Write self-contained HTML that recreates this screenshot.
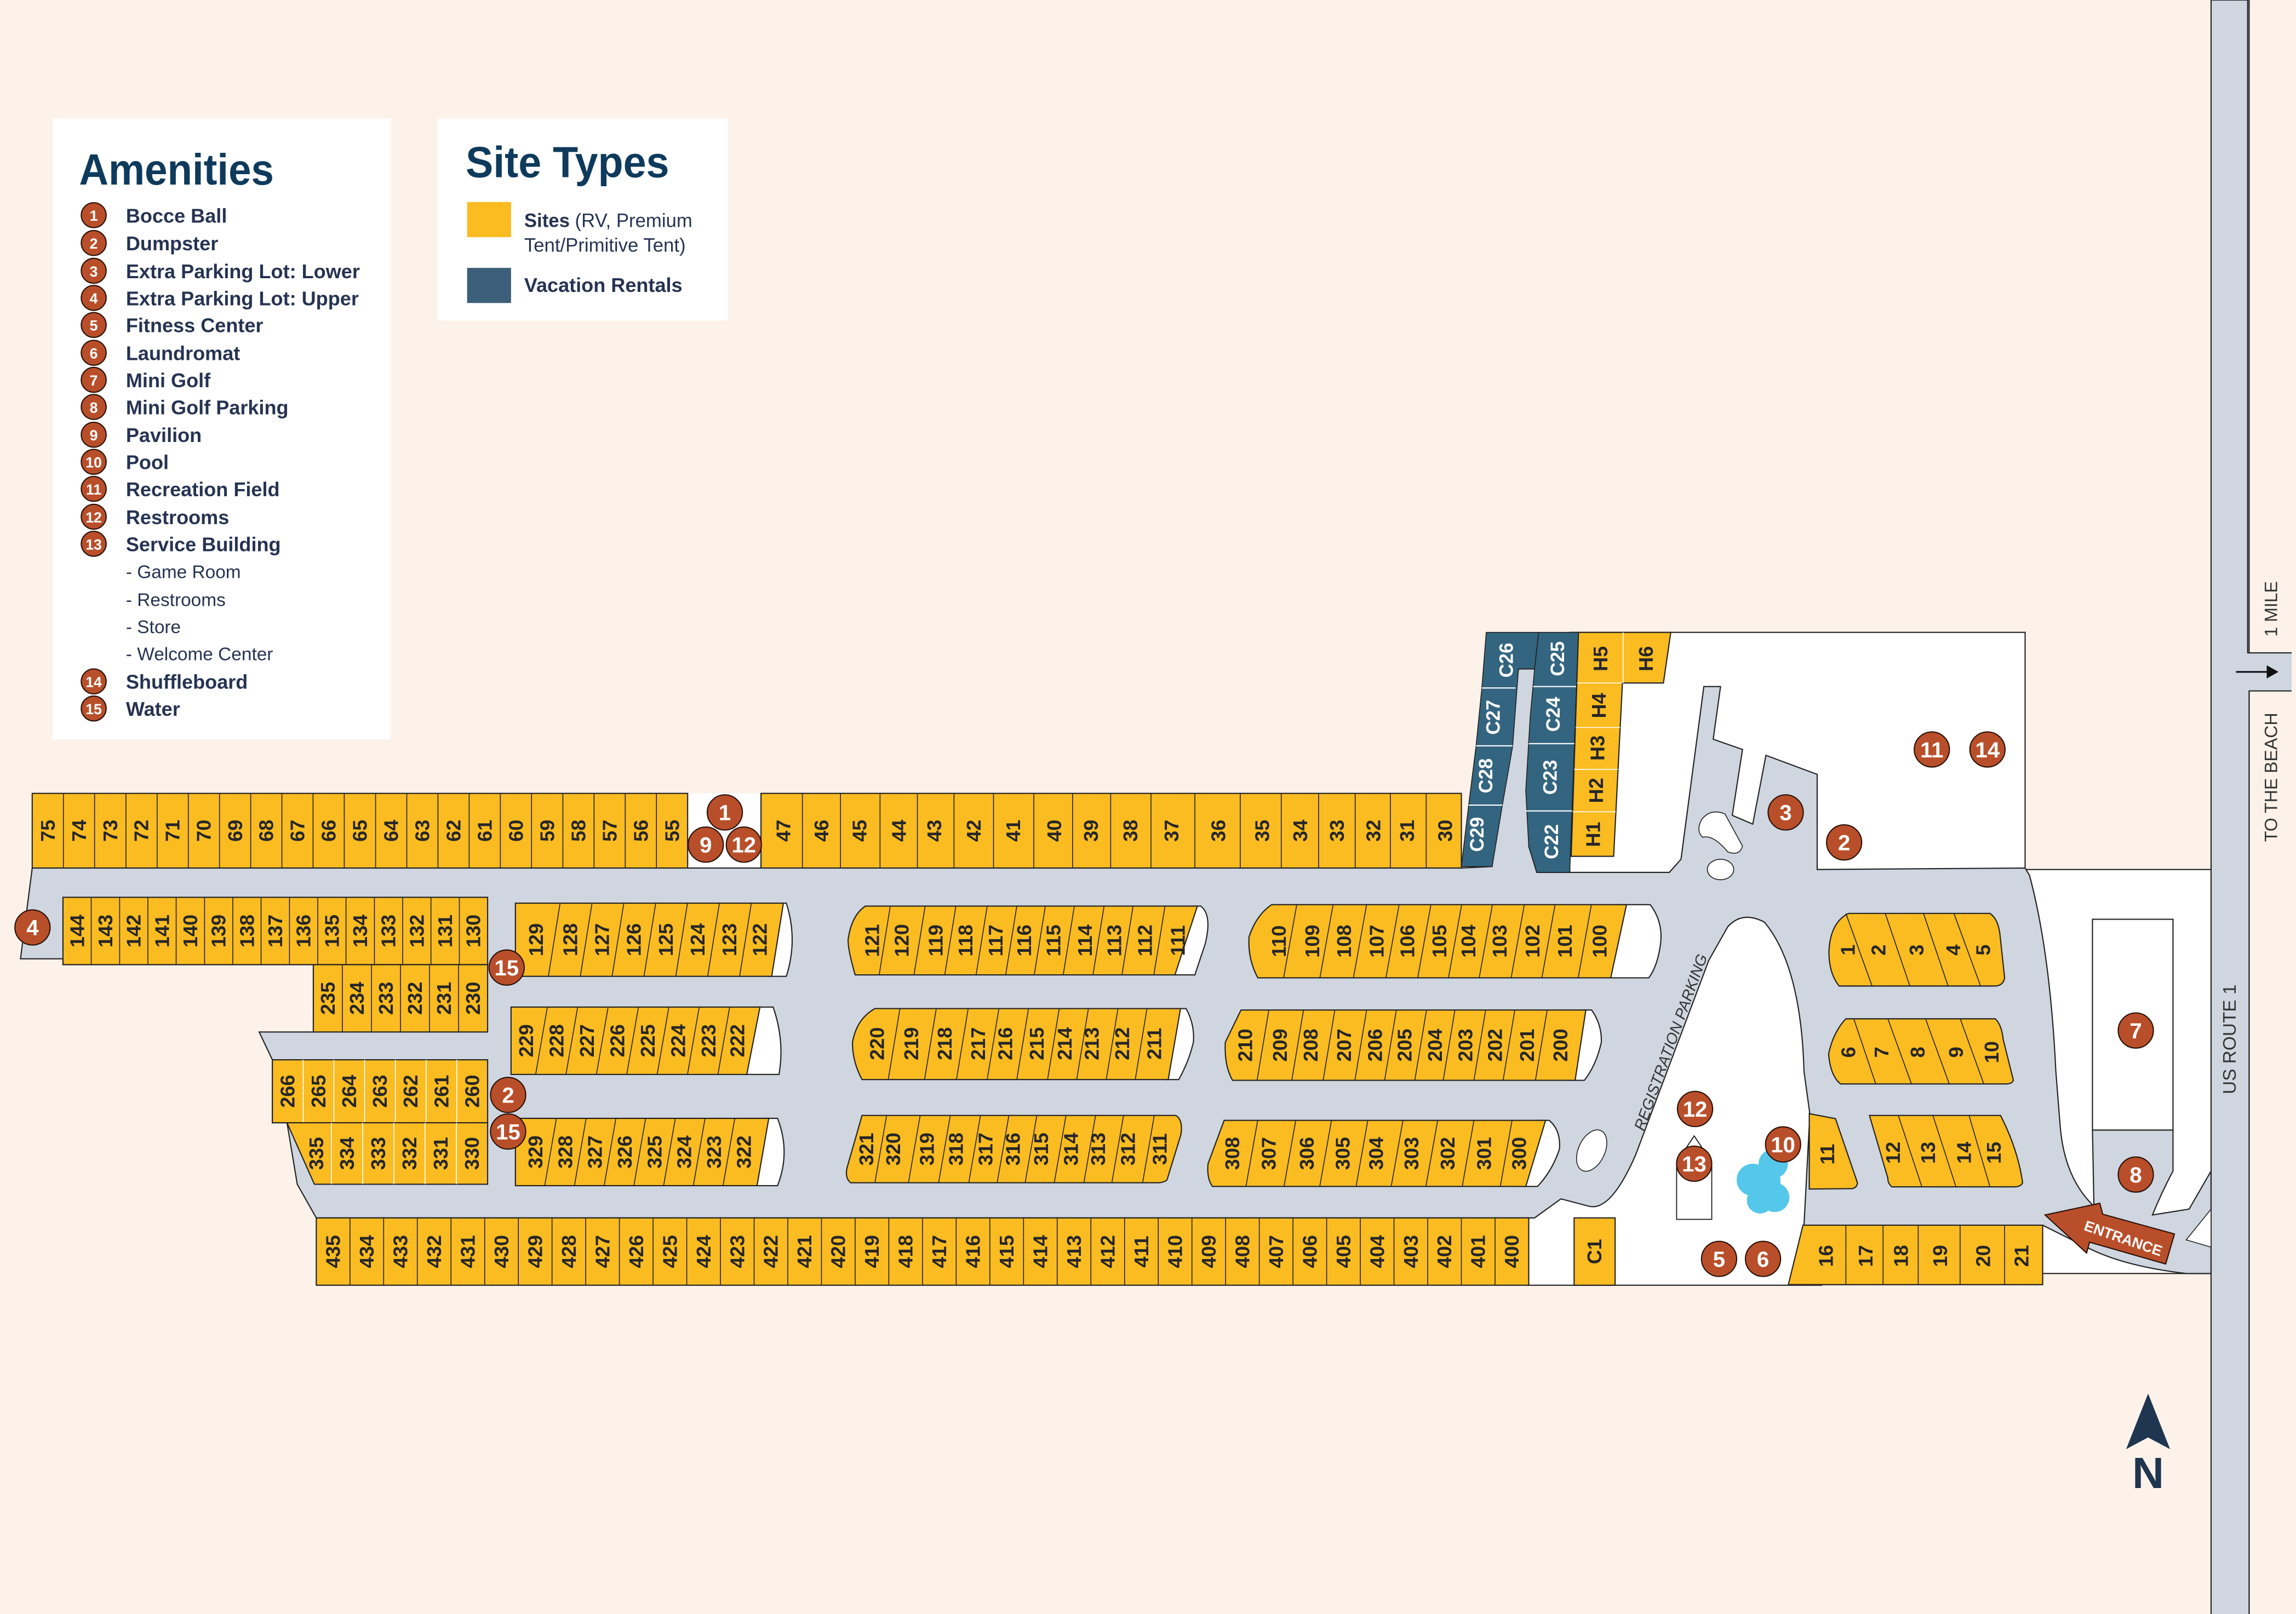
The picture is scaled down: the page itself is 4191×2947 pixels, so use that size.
<!DOCTYPE html>
<html><head><meta charset="utf-8"><style>
html,body{margin:0;padding:0;background:#fdf2e9;}
svg{display:block}
.s{font-family:"Liberation Sans",sans-serif;font-weight:bold;font-size:13.5px;fill:#262626;text-anchor:middle;dominant-baseline:central}
.w{fill:#fff}
.m circle{fill:#b94f2a;stroke:#2a1208;stroke-width:.8}
.m text{font-family:"Liberation Sans",sans-serif;font-weight:bold;font-size:15px;fill:#fff;text-anchor:middle;dominant-baseline:central}
.y{fill:#fbbc22;stroke:#222;stroke-width:.8}
.d{stroke:#222;stroke-width:.6;fill:none}
.b{fill:#336580;stroke:#222;stroke-width:.6}
.bd{stroke:#fff;stroke-width:.8;fill:none}
.bt{font-family:"Liberation Sans",sans-serif;font-weight:bold;font-size:13px;fill:#fff;text-anchor:middle;dominant-baseline:central}
.li{font-family:"Liberation Sans",sans-serif;font-weight:bold;font-size:13.5px;fill:#263352}
.ls{font-family:"Liberation Sans",sans-serif;font-size:12.5px;fill:#263352}
.lm circle{fill:#b94f2a;stroke:#2a1208;stroke-width:.8}
.lm text{font-family:"Liberation Sans",sans-serif;font-weight:bold;font-size:10px;fill:#fff;text-anchor:middle;dominant-baseline:central}
</style></head><body>
<svg width="4191" height="2947" viewBox="0 0 1568 1102.6" preserveAspectRatio="none" xmlns="http://www.w3.org/2000/svg">
<rect x="0" y="0" width="1568" height="1102.6" fill="#fdf2e9"/>

<rect x="1072" y="432" width="311" height="164" class="w" stroke="#222" stroke-width=".8"/>
<rect x="1383" y="594" width="128" height="276" class="w" stroke="#222" stroke-width=".8"/>
<rect x="1044" y="620" width="200" height="258" class="w" stroke="#222" stroke-width=".8"/>
<rect x="469" y="542" width="51" height="51" class="w"/>

<path d="M22,593 L998,593 L1019,592 L1037,457 L1048,457 L1044,578 L1049.5,596 L1140,596 L1148,587 L1163.6,469 L1175,469 L1170,505 L1190,512 L1183,557 L1197,563 L1206,516 L1241,529 L1241,594 L1383,593 L1386,598 Q1400,650 1404,732 L1407,770 Q1410,805 1430,824 L1429,772 L1484,772 L1484,800 Q1476,815 1470,830 L1495,826 L1510,800 L1510,870 L1493,870 Q1450,865 1425,852 L1395,837 L1232,837 L1236,761 L1232,732 Q1230,660 1205,630 Q1190,622 1180,633 L1167,656 L1117,789 Q1100,828 1085,824 L1066,819 L1048,832 L216,832 L203,809 L196,767 L186,767 L186,724 L177,705 L214,705 L214,659 L43,659 L43,655 L14,655 Z" fill="#cfd6e0" stroke="#222" stroke-width=".8"/>
<ellipse cx="1175" cy="594" rx="9" ry="7" class="w" stroke="#222" stroke-width=".6"/>
<path d="M1162,560 Q1168,552 1178,556 L1190,578 Q1188,585 1180,582 Q1170,570 1163,572 Q1158,568 1162,560 Z" class="w" stroke="#222" stroke-width=".6"/>
<ellipse cx="1087" cy="786" rx="9" ry="15" transform="rotate(25 1087 786)" class="w" stroke="#222" stroke-width=".6"/>

<rect x="1510" y="0" width="26" height="1103" fill="#cfd6e0" stroke="#222" stroke-width=".8"/>
<rect x="1535" y="446" width="30" height="26" fill="#cfd6e0"/>
<path d="M1535,0 V446 H1565 M1565,472 H1536 V1103" stroke="#222" stroke-width=".8" fill="none"/>
<path d="M1527,459 H1549" stroke="#111" stroke-width="1.2"/>
<path d="M1548,454.5 L1556,459 L1548,463.5 Z" fill="#111"/>
<text transform="translate(1551 416) rotate(-90)" font-family="Liberation Sans,sans-serif" font-size="12" fill="#333" text-anchor="middle" dominant-baseline="central">1 MILE</text>
<text transform="translate(1551 531) rotate(-90)" font-family="Liberation Sans,sans-serif" font-size="12" fill="#333" text-anchor="middle" dominant-baseline="central">TO THE BEACH</text>
<text transform="translate(1523 710) rotate(-90)" font-family="Liberation Sans,sans-serif" font-size="12.5" fill="#333" text-anchor="middle" dominant-baseline="central">US ROUTE 1</text>
<path d="M1493,847 L1510,826 L1510,852 Z" class="w" stroke="#222" stroke-width=".6"/>

<rect x="1429" y="628" width="55" height="144" class="w" stroke="#222" stroke-width=".8"/>

<rect x="22" y="542" width="447.6" height="51" class="y"/>
<path class="d" d="M43.3,542V593M64.6,542V593M86,542V593M107.3,542V593M128.6,542V593M149.9,542V593M171.2,542V593M192.5,542V593M213.8,542V593M235.1,542V593M256.5,542V593M277.8,542V593M299.1,542V593M320.4,542V593M341.7,542V593M363,542V593M384.4,542V593M405.7,542V593M427,542V593M448.3,542V593"/>
<g>
<text class="s" transform="translate(32.7 567.5) rotate(-90)">75</text>
<text class="s" transform="translate(54 567.5) rotate(-90)">74</text>
<text class="s" transform="translate(75.3 567.5) rotate(-90)">73</text>
<text class="s" transform="translate(96.6 567.5) rotate(-90)">72</text>
<text class="s" transform="translate(117.9 567.5) rotate(-90)">71</text>
<text class="s" transform="translate(139.2 567.5) rotate(-90)">70</text>
<text class="s" transform="translate(160.6 567.5) rotate(-90)">69</text>
<text class="s" transform="translate(181.9 567.5) rotate(-90)">68</text>
<text class="s" transform="translate(203.2 567.5) rotate(-90)">67</text>
<text class="s" transform="translate(224.5 567.5) rotate(-90)">66</text>
<text class="s" transform="translate(245.8 567.5) rotate(-90)">65</text>
<text class="s" transform="translate(267.1 567.5) rotate(-90)">64</text>
<text class="s" transform="translate(288.5 567.5) rotate(-90)">63</text>
<text class="s" transform="translate(309.8 567.5) rotate(-90)">62</text>
<text class="s" transform="translate(331.1 567.5) rotate(-90)">61</text>
<text class="s" transform="translate(352.4 567.5) rotate(-90)">60</text>
<text class="s" transform="translate(373.7 567.5) rotate(-90)">59</text>
<text class="s" transform="translate(395 567.5) rotate(-90)">58</text>
<text class="s" transform="translate(416.4 567.5) rotate(-90)">57</text>
<text class="s" transform="translate(437.7 567.5) rotate(-90)">56</text>
<text class="s" transform="translate(459 567.5) rotate(-90)">55</text>
</g>

<rect x="519.7" y="542" width="478.3" height="51" class="y"/>
<path class="d" d="M548,542V593M574,542V593M601,542V593M626.5,542V593M651.5,542V593M678.5,542V593M706,542V593M732.5,542V593M758.5,542V593M786,542V593M816,542V593M847,542V593M875,542V593M900.5,542V593M925.5,542V593M949.5,542V593M974,542V593"/>
<g>
<text class="s" transform="translate(535 567.5) rotate(-90)">47</text>
<text class="s" transform="translate(561 567.5) rotate(-90)">46</text>
<text class="s" transform="translate(587 567.5) rotate(-90)">45</text>
<text class="s" transform="translate(614 567.5) rotate(-90)">44</text>
<text class="s" transform="translate(638 567.5) rotate(-90)">43</text>
<text class="s" transform="translate(665 567.5) rotate(-90)">42</text>
<text class="s" transform="translate(692 567.5) rotate(-90)">41</text>
<text class="s" transform="translate(720 567.5) rotate(-90)">40</text>
<text class="s" transform="translate(745 567.5) rotate(-90)">39</text>
<text class="s" transform="translate(772 567.5) rotate(-90)">38</text>
<text class="s" transform="translate(800 567.5) rotate(-90)">37</text>
<text class="s" transform="translate(832 567.5) rotate(-90)">36</text>
<text class="s" transform="translate(862 567.5) rotate(-90)">35</text>
<text class="s" transform="translate(888 567.5) rotate(-90)">34</text>
<text class="s" transform="translate(913 567.5) rotate(-90)">33</text>
<text class="s" transform="translate(938 567.5) rotate(-90)">32</text>
<text class="s" transform="translate(961 567.5) rotate(-90)">31</text>
<text class="s" transform="translate(987 567.5) rotate(-90)">30</text>
</g>

<path class="b" d="M1015,432 L1050.8,432 L1048,457 L1037,457 L1033,510 L1026,550 L1019,592 L998,592 L1003,550 L1008,510 L1012,470 Z"/>
<path class="bd" d="M1012,470 L1035,470 M1008,509.5 L1033,509.5 M1003,550 L1026,550"/>
<text class="bt" transform="translate(1029 451) rotate(-90)">C26</text>
<text class="bt" transform="translate(1020 490) rotate(-90)">C27</text>
<text class="bt" transform="translate(1015 530) rotate(-90)">C28</text>
<text class="bt" transform="translate(1009 570) rotate(-90)">C29</text>
<path class="b" d="M1050.8,432 L1078,432 L1072,596 L1049.5,596 L1044,578 L1042,540 L1045,490 L1048,457 Z"/>
<path class="bd" d="M1047,469 L1077,469 M1044,508 L1076,508 M1042,554 L1074,554"/>
<text class="bt" transform="translate(1064 450) rotate(-90)">C25</text>
<text class="bt" transform="translate(1061 488) rotate(-90)">C24</text>
<text class="bt" transform="translate(1059 531) rotate(-90)">C23</text>
<text class="bt" transform="translate(1060 575) rotate(-90)">C22</text>
<path class="y" d="M1078,432 L1141,432 L1136,466.6 L1108,466.6 L1102,585 L1073,585 Z"/>
<path class="d" d="M1108.5,432 V466.6 M1077,466.6 H1108 M1076,497 H1106.5 M1075,525.6 H1105 M1074,554.6 H1103.5" style="stroke:#fff"/>
<text class="s" transform="translate(1093 450) rotate(-90)">H5</text>
<text class="s" transform="translate(1124 450) rotate(-90)">H6</text>
<text class="s" transform="translate(1092 482) rotate(-90)">H4</text>
<text class="s" transform="translate(1091 511) rotate(-90)">H3</text>
<text class="s" transform="translate(1090 540) rotate(-90)">H2</text>
<text class="s" transform="translate(1088 570) rotate(-90)">H1</text>

<rect x="43" y="613" width="290" height="46" class="y"/>
<path class="d" d="M62.3,613V659M81.7,613V659M101,613V659M120.3,613V659M139.7,613V659M159,613V659M178.3,613V659M197.7,613V659M217,613V659M236.3,613V659M255.7,613V659M275,613V659M294.3,613V659M313.7,613V659"/>
<g>
<text class="s" transform="translate(52.7 636) rotate(-90)">144</text>
<text class="s" transform="translate(72 636) rotate(-90)">143</text>
<text class="s" transform="translate(91.3 636) rotate(-90)">142</text>
<text class="s" transform="translate(110.7 636) rotate(-90)">141</text>
<text class="s" transform="translate(130 636) rotate(-90)">140</text>
<text class="s" transform="translate(149.3 636) rotate(-90)">139</text>
<text class="s" transform="translate(168.7 636) rotate(-90)">138</text>
<text class="s" transform="translate(188 636) rotate(-90)">137</text>
<text class="s" transform="translate(207.3 636) rotate(-90)">136</text>
<text class="s" transform="translate(226.7 636) rotate(-90)">135</text>
<text class="s" transform="translate(246 636) rotate(-90)">134</text>
<text class="s" transform="translate(265.3 636) rotate(-90)">133</text>
<text class="s" transform="translate(284.7 636) rotate(-90)">132</text>
<text class="s" transform="translate(304 636) rotate(-90)">131</text>
<text class="s" transform="translate(323.3 636) rotate(-90)">130</text>
</g>

<rect x="214" y="659" width="119" height="46" class="y"/>
<path class="d" d="M233.8,659V705M253.7,659V705M273.5,659V705M293.3,659V705M313.2,659V705"/>
<text class="s" transform="translate(223.9 682) rotate(-90)">235</text>
<text class="s" transform="translate(243.8 682) rotate(-90)">234</text>
<text class="s" transform="translate(263.6 682) rotate(-90)">233</text>
<text class="s" transform="translate(283.4 682) rotate(-90)">232</text>
<text class="s" transform="translate(303.3 682) rotate(-90)">231</text>
<text class="s" transform="translate(323.1 682) rotate(-90)">230</text>

<rect x="186" y="724" width="147" height="43" class="y"/>
<path class="d" d="M207,724V767M228,724V767M249,724V767M270,724V767M291,724V767M312,724V767" style="stroke:#fff"/>
<text class="s" transform="translate(196.5 745.5) rotate(-90)">266</text>
<text class="s" transform="translate(217.5 745.5) rotate(-90)">265</text>
<text class="s" transform="translate(238.5 745.5) rotate(-90)">264</text>
<text class="s" transform="translate(259.5 745.5) rotate(-90)">263</text>
<text class="s" transform="translate(280.5 745.5) rotate(-90)">262</text>
<text class="s" transform="translate(301.5 745.5) rotate(-90)">261</text>
<text class="s" transform="translate(322.5 745.5) rotate(-90)">260</text>

<path class="y" d="M196,767 L333,767 L333,809 L214.7,809 Z"/>
<path class="d" d="M226.3,767V809M247.7,767V809M269,767V809M290.3,767V809M311.7,767V809" style="stroke:#fff"/>
<text class="s" transform="translate(216 788) rotate(-90)">335</text>
<text class="s" transform="translate(237 788) rotate(-90)">334</text>
<text class="s" transform="translate(258.3 788) rotate(-90)">333</text>
<text class="s" transform="translate(279.7 788) rotate(-90)">332</text>
<text class="s" transform="translate(301 788) rotate(-90)">331</text>
<text class="s" transform="translate(322.3 788) rotate(-90)">330</text>

<path class="w" stroke="#222" stroke-width=".8" d="M530,617 L537,617 Q545,642 537,667 L525,667 Z"/>
<path class="y" d="M352,617 L535,617 L527,667 L352,667 Z"/>
<path class="d" d="M382.5,617L374.5,667M404.3,617L396.3,667M426,617L418,667M447.8,617L439.8,667M469.5,617L461.5,667M491.3,617L483.3,667M513.1,617L505.1,667"/>
<text class="s" transform="translate(366 642) rotate(-90)">129</text>
<text class="s" transform="translate(389.4 642) rotate(-90)">128</text>
<text class="s" transform="translate(411.1 642) rotate(-90)">127</text>
<text class="s" transform="translate(432.9 642) rotate(-90)">126</text>
<text class="s" transform="translate(454.7 642) rotate(-90)">125</text>
<text class="s" transform="translate(476.4 642) rotate(-90)">124</text>
<text class="s" transform="translate(498.2 642) rotate(-90)">123</text>
<text class="s" transform="translate(519 642) rotate(-90)">122</text>

<path class="w" stroke="#222" stroke-width=".8" d="M515,688 L528,688 Q536,711 532,734 L508,734 Z"/>
<path class="y" d="M349,688 L519,688 L510,734 L349,734 Z"/>
<path class="d" d="M373.8,688L365.8,734M394.5,688L386.5,734M415.3,688L407.3,734M436,688L428,734M456.8,688L448.8,734M477.5,688L469.5,734M498.3,688L490.3,734"/>
<text class="s" transform="translate(359.4 711) rotate(-90)">229</text>
<text class="s" transform="translate(380.1 711) rotate(-90)">228</text>
<text class="s" transform="translate(400.9 711) rotate(-90)">227</text>
<text class="s" transform="translate(421.6 711) rotate(-90)">226</text>
<text class="s" transform="translate(442.4 711) rotate(-90)">225</text>
<text class="s" transform="translate(463.1 711) rotate(-90)">224</text>
<text class="s" transform="translate(483.9 711) rotate(-90)">223</text>
<text class="s" transform="translate(503.6 711) rotate(-90)">222</text>

<path class="w" stroke="#222" stroke-width=".8" d="M520,764 L531,764 Q540,787 531,810 L514,810 Z"/>
<path class="y" d="M352,764 L525,764 L517,810 L352,810 Z"/>
<path class="d" d="M380,764L372,810M400.3,764L392.3,810M420.6,764L412.6,810M440.9,764L432.9,810M461.2,764L453.2,810M481.5,764L473.5,810M501.8,764L493.8,810"/>
<text class="s" transform="translate(365.8 787) rotate(-90)">329</text>
<text class="s" transform="translate(386.1 787) rotate(-90)">328</text>
<text class="s" transform="translate(406.4 787) rotate(-90)">327</text>
<text class="s" transform="translate(426.7 787) rotate(-90)">326</text>
<text class="s" transform="translate(447 787) rotate(-90)">325</text>
<text class="s" transform="translate(467.3 787) rotate(-90)">324</text>
<text class="s" transform="translate(487.6 787) rotate(-90)">323</text>
<text class="s" transform="translate(508 787) rotate(-90)">322</text>

<path class="w" stroke="#222" stroke-width=".8" d="M815,619 L820,619 Q828,625 823,645 L816,666 L802,666 Z"/>
<path class="y" d="M591,619 L817.7,619 L802.4,666 L584,666 Q578,645 579.5,640 Q582,625 591,619 Z"/>
<path class="d" d="M608,619L600.4,666M631.8,619L624.2,666M652.8,619L645.2,666M674.2,619L666.6,666M694.4,619L686.8,666M713.9,619L706.3,666M733.7,619L726.1,666M754,619L746.4,666M773.8,619L766.2,666M795.6,619L788,666"/>
<text class="s" transform="translate(595.6 642.5) rotate(-90)">121</text>
<text class="s" transform="translate(615.8 642.5) rotate(-90)">120</text>
<text class="s" transform="translate(639 642.5) rotate(-90)">119</text>
<text class="s" transform="translate(659.5 642.5) rotate(-90)">118</text>
<text class="s" transform="translate(680 642.5) rotate(-90)">117</text>
<text class="s" transform="translate(699.5 642.5) rotate(-90)">116</text>
<text class="s" transform="translate(719.5 642.5) rotate(-90)">115</text>
<text class="s" transform="translate(741 642.5) rotate(-90)">114</text>
<text class="s" transform="translate(761 642.5) rotate(-90)">113</text>
<text class="s" transform="translate(782 642.5) rotate(-90)">112</text>
<text class="s" transform="translate(804.3 642.5) rotate(-90)">111</text>

<path class="w" stroke="#222" stroke-width=".8" d="M1105,618 L1127,618 Q1136,630 1134,645 Q1132,660 1126,668 L1098,668 Z"/>
<path class="y" d="M868.5,618 L1110.8,618 L1100,668 L859,668 Q852,655 853,640 Q858,625 868.5,618 Z"/>
<path class="d" d="M885.6,618L876.6,668M910.4,618L901.4,668M933.3,618L924.3,668M955.5,618L946.5,668M977.2,618L968.2,668M998.2,618L989.2,668M1019.2,618L1010.2,668M1041,618L1032,668M1062,618L1053,668M1086.8,618L1077.8,668"/>
<text class="s" transform="translate(873.4 643) rotate(-90)">110</text>
<text class="s" transform="translate(896.3 643) rotate(-90)">109</text>
<text class="s" transform="translate(918 643) rotate(-90)">108</text>
<text class="s" transform="translate(940.2 643) rotate(-90)">107</text>
<text class="s" transform="translate(961.2 643) rotate(-90)">106</text>
<text class="s" transform="translate(983 643) rotate(-90)">105</text>
<text class="s" transform="translate(1002.8 643) rotate(-90)">104</text>
<text class="s" transform="translate(1024.2 643) rotate(-90)">103</text>
<text class="s" transform="translate(1046.7 643) rotate(-90)">102</text>
<text class="s" transform="translate(1068.8 643) rotate(-90)">101</text>
<text class="s" transform="translate(1092.5 643) rotate(-90)">100</text>

<path class="w" stroke="#222" stroke-width=".8" d="M804,689 L810,689 Q816,700 815,712 Q812,725 805,737.5 L796,737.5 Z"/>
<path class="y" d="M597.5,689 L806.2,689 L797.8,737.5 L588.7,737.5 Q582,725 582.2,712 Q585,696 597.5,689 Z"/>
<path class="d" d="M614.6,689L606.6,737.5M639.4,689L631.4,737.5M661.2,689L653.2,737.5M682.2,689L674.2,737.5M702.4,689L694.4,737.5M723.4,689L715.4,737.5M743.3,689L735.3,737.5M763.5,689L755.5,737.5M783.3,689L775.3,737.5"/>
<text class="s" transform="translate(599 713) rotate(-90)">220</text>
<text class="s" transform="translate(622.3 713) rotate(-90)">219</text>
<text class="s" transform="translate(645.2 713) rotate(-90)">218</text>
<text class="s" transform="translate(668.1 713) rotate(-90)">217</text>
<text class="s" transform="translate(686.5 713) rotate(-90)">216</text>
<text class="s" transform="translate(708.1 713) rotate(-90)">215</text>
<text class="s" transform="translate(727.2 713) rotate(-90)">214</text>
<text class="s" transform="translate(745.7 713) rotate(-90)">213</text>
<text class="s" transform="translate(766.5 713) rotate(-90)">212</text>
<text class="s" transform="translate(788.3 713) rotate(-90)">211</text>

<path class="w" stroke="#222" stroke-width=".8" d="M1080,690 L1087,690 Q1094,700 1093.6,712 Q1090,728 1082,738 L1073,738 Z"/>
<path class="y" d="M847.5,690 L1083,690 L1075.7,738 L841.7,738 Q836,728 836.8,712 Z"/>
<path class="d" d="M866.5,690L858.5,738M890.2,690L882.2,738M911.6,690L903.6,738M933.3,690L925.3,738M953.6,690L945.6,738M974.2,690L966.2,738M993.6,690L985.6,738M1014.6,690L1006.6,738M1034.5,690L1026.5,738M1056.6,690L1048.6,738"/>
<text class="s" transform="translate(850.5 714) rotate(-90)">210</text>
<text class="s" transform="translate(874.2 714) rotate(-90)">209</text>
<text class="s" transform="translate(895.2 714) rotate(-90)">208</text>
<text class="s" transform="translate(918 714) rotate(-90)">207</text>
<text class="s" transform="translate(939 714) rotate(-90)">206</text>
<text class="s" transform="translate(959.3 714) rotate(-90)">205</text>
<text class="s" transform="translate(980 714) rotate(-90)">204</text>
<text class="s" transform="translate(1000.9 714) rotate(-90)">203</text>
<text class="s" transform="translate(1021.1 714) rotate(-90)">202</text>
<text class="s" transform="translate(1042.9 714) rotate(-90)">201</text>
<text class="s" transform="translate(1065.8 714) rotate(-90)">200</text>

<path class="y" d="M588.7,762 L803,762 Q808,765 806.5,775 L797,806 Q795,808 790,808 L581,808 Q577,805 578.4,798 Z"/>
<path class="d" d="M605.5,762L597.5,808M628.4,762L620.4,808M649,762L641,808M669.6,762L661.6,808M689,762L681,808M708.1,762L700.1,808M728,762L720,808M748.2,762L740.2,808M767.3,762L759.3,808M788.3,762L780.3,808"/>
<text class="s" transform="translate(591.7 785) rotate(-90)">321</text>
<text class="s" transform="translate(610 785) rotate(-90)">320</text>
<text class="s" transform="translate(633 785) rotate(-90)">319</text>
<text class="s" transform="translate(652.8 785) rotate(-90)">318</text>
<text class="s" transform="translate(673 785) rotate(-90)">317</text>
<text class="s" transform="translate(691.7 785) rotate(-90)">316</text>
<text class="s" transform="translate(711 785) rotate(-90)">315</text>
<text class="s" transform="translate(731.4 785) rotate(-90)">314</text>
<text class="s" transform="translate(750 785) rotate(-90)">313</text>
<text class="s" transform="translate(770.4 785) rotate(-90)">312</text>
<text class="s" transform="translate(792.1 785) rotate(-90)">311</text>

<path class="w" stroke="#222" stroke-width=".8" d="M1050,765.4 L1058,765.4 Q1066,772 1065,785 Q1060,800 1050,810.5 L1040,810.5 Z"/>
<path class="y" d="M836,765.4 L1055.5,765.4 L1042,810.5 L828,810.5 Q824,805 825,795 Z"/>
<path class="d" d="M858.9,765.4L850.9,810.5M884.9,765.4L876.9,810.5M909.3,765.4L901.3,810.5M934.1,765.4L926.1,810.5M958.1,765.4L950.1,810.5M981.8,765.4L973.8,810.5M1006.6,765.4L998.6,810.5M1032.6,765.4L1024.6,810.5"/>
<text class="s" transform="translate(841.7 788) rotate(-90)">308</text>
<text class="s" transform="translate(866.5 788) rotate(-90)">307</text>
<text class="s" transform="translate(892.5 788) rotate(-90)">306</text>
<text class="s" transform="translate(917 788) rotate(-90)">305</text>
<text class="s" transform="translate(939.8 788) rotate(-90)">304</text>
<text class="s" transform="translate(963.9 788) rotate(-90)">303</text>
<text class="s" transform="translate(988.7 788) rotate(-90)">302</text>
<text class="s" transform="translate(1013.5 788) rotate(-90)">301</text>
<text class="s" transform="translate(1037.5 788) rotate(-90)">300</text>

<rect x="216" y="832" width="828" height="46" class="y"/>
<path class="d" d="M239,832V878M262,832V878M285,832V878M308,832V878M331,832V878M354,832V878M377,832V878M400,832V878M423,832V878M446,832V878M469,832V878M492,832V878M515,832V878M538,832V878M561,832V878M584,832V878M607,832V878M630,832V878M653,832V878M676,832V878M699,832V878M722,832V878M745,832V878M768,832V878M791,832V878M814,832V878M837,832V878M860,832V878M883,832V878M906,832V878M929,832V878M952,832V878M975,832V878M998,832V878M1021,832V878"/>
<g>
<text class="s" transform="translate(227.5 855) rotate(-90)">435</text>
<text class="s" transform="translate(250.5 855) rotate(-90)">434</text>
<text class="s" transform="translate(273.5 855) rotate(-90)">433</text>
<text class="s" transform="translate(296.5 855) rotate(-90)">432</text>
<text class="s" transform="translate(319.5 855) rotate(-90)">431</text>
<text class="s" transform="translate(342.5 855) rotate(-90)">430</text>
<text class="s" transform="translate(365.5 855) rotate(-90)">429</text>
<text class="s" transform="translate(388.5 855) rotate(-90)">428</text>
<text class="s" transform="translate(411.5 855) rotate(-90)">427</text>
<text class="s" transform="translate(434.5 855) rotate(-90)">426</text>
<text class="s" transform="translate(457.5 855) rotate(-90)">425</text>
<text class="s" transform="translate(480.5 855) rotate(-90)">424</text>
<text class="s" transform="translate(503.5 855) rotate(-90)">423</text>
<text class="s" transform="translate(526.5 855) rotate(-90)">422</text>
<text class="s" transform="translate(549.5 855) rotate(-90)">421</text>
<text class="s" transform="translate(572.5 855) rotate(-90)">420</text>
<text class="s" transform="translate(595.5 855) rotate(-90)">419</text>
<text class="s" transform="translate(618.5 855) rotate(-90)">418</text>
<text class="s" transform="translate(641.5 855) rotate(-90)">417</text>
<text class="s" transform="translate(664.5 855) rotate(-90)">416</text>
<text class="s" transform="translate(687.5 855) rotate(-90)">415</text>
<text class="s" transform="translate(710.5 855) rotate(-90)">414</text>
<text class="s" transform="translate(733.5 855) rotate(-90)">413</text>
<text class="s" transform="translate(756.5 855) rotate(-90)">412</text>
<text class="s" transform="translate(779.5 855) rotate(-90)">411</text>
<text class="s" transform="translate(802.5 855) rotate(-90)">410</text>
<text class="s" transform="translate(825.5 855) rotate(-90)">409</text>
<text class="s" transform="translate(848.5 855) rotate(-90)">408</text>
<text class="s" transform="translate(871.5 855) rotate(-90)">407</text>
<text class="s" transform="translate(894.5 855) rotate(-90)">406</text>
<text class="s" transform="translate(917.5 855) rotate(-90)">405</text>
<text class="s" transform="translate(940.5 855) rotate(-90)">404</text>
<text class="s" transform="translate(963.5 855) rotate(-90)">403</text>
<text class="s" transform="translate(986.5 855) rotate(-90)">402</text>
<text class="s" transform="translate(1009.5 855) rotate(-90)">401</text>
<text class="s" transform="translate(1032.5 855) rotate(-90)">400</text>
</g>
<rect x="1075" y="832" width="28" height="46" class="y"/>
<text class="s" transform="translate(1089 855) rotate(-90)">C1</text>

<path class="y" d="M1262.4,624 L1359,624 Q1365,628 1366,640 L1369,668 Q1368,673.6 1362,673.6 L1256,673.6 Q1249,665 1249,650 Q1250,630 1262.4,624 Z"/>
<path class="d" d="M1260.6,624L1278.5,673.6M1287.5,624L1304.3,673.6M1313.6,624L1330.4,673.6M1334.4,624L1352.6,673.6"/>
<text class="s" transform="translate(1262 649) rotate(-90)">1</text>
<text class="s" transform="translate(1283 649) rotate(-90)">2</text>
<text class="s" transform="translate(1309 649) rotate(-90)">3</text>
<text class="s" transform="translate(1334 649) rotate(-90)">4</text>
<text class="s" transform="translate(1354.4 649) rotate(-90)">5</text>

<path class="y" d="M1260.6,696 L1362.6,696 Q1367,700 1368,710 L1375,738 Q1374,740.5 1370,740.5 L1257,740.5 Q1250,735 1248.8,720 Q1252,705 1260.6,696 Z"/>
<path class="d" d="M1266,696L1281,740.5M1289.3,696L1305.4,740.5M1315,696L1331.2,740.5M1338.7,696L1354.8,740.5"/>
<text class="s" transform="translate(1262.4 718.8) rotate(-90)">6</text>
<text class="s" transform="translate(1285 718.8) rotate(-90)">7</text>
<text class="s" transform="translate(1309.7 718.8) rotate(-90)">8</text>
<text class="s" transform="translate(1335.8 718.8) rotate(-90)">9</text>
<text class="s" transform="translate(1360.1 718.8) rotate(-90)">10</text>

<path class="y" d="M1235.6,760.8 L1253.5,764.2 L1268.5,808 Q1268,812 1264,812 L1235.6,812.3 Z"/>
<text class="s" transform="translate(1248 788.5) rotate(-90)">11</text>

<path class="y" d="M1276.7,762 L1366.2,762 Q1378,785 1381.3,808 Q1380,810.8 1376,810.8 L1292,810.8 Q1289,808 1289.3,805 Z"/>
<path class="d" d="M1296.4,762L1312.5,810.8M1320,762L1335.8,810.8M1344.7,762L1359,810.8"/>
<text class="s" transform="translate(1292.8 787.5) rotate(-90)">12</text>
<text class="s" transform="translate(1316.8 787.5) rotate(-90)">13</text>
<text class="s" transform="translate(1341.2 787.5) rotate(-90)">14</text>
<text class="s" transform="translate(1361.6 787.5) rotate(-90)">15</text>

<path class="y" d="M1231.3,837 L1395,837 L1395,877.6 L1221.3,877.6 Z"/>
<path class="d" d="M1260.6,837V877.6M1286,837V877.6M1310,837V877.6M1338.6,837V877.6M1369,837V877.6"/>
<text class="s" transform="translate(1247 858) rotate(-90)">16</text>
<text class="s" transform="translate(1274.2 858) rotate(-90)">17</text>
<text class="s" transform="translate(1298.2 858) rotate(-90)">18</text>
<text class="s" transform="translate(1325 858) rotate(-90)">19</text>
<text class="s" transform="translate(1354.4 858) rotate(-90)">20</text>
<text class="s" transform="translate(1380.5 858) rotate(-90)">21</text>

<g fill="#55c7ea">
<circle cx="1197" cy="806" r="11"/><circle cx="1211" cy="795" r="10"/><circle cx="1212" cy="818" r="10"/><circle cx="1202" cy="820" r="9"/><circle cx="1205" cy="807" r="11"/>
</g>
<path d="M1157,776 L1169,794 L1169,833 L1145,833 L1145,794 Z" class="w" stroke="#222" stroke-width=".7"/>

<path d="M1396.6,830 L1434,822 L1436,829.5 L1485,843 L1479,863.5 L1427,848.6 L1425,856 Z" fill="#b94f2a" stroke="#2a1208" stroke-width=".8"/>
<text transform="translate(1450 846) rotate(19)" font-family="Liberation Sans,sans-serif" font-weight="bold" font-size="10" fill="#fff" text-anchor="middle" dominant-baseline="central">ENTRANCE</text>

<text transform="translate(1141 712) rotate(-70)" font-family="Liberation Sans,sans-serif" font-size="10.5" fill="#333" text-anchor="middle" dominant-baseline="central" font-style="italic">REGISTRATION PARKING</text>

<g class="m">
<circle cx="22.2" cy="633.6" r="12"/><text x="22.2" y="634">4</text>
<circle cx="346" cy="661" r="12"/><text x="346" y="661.5">15</text>
<circle cx="347" cy="748" r="12"/><text x="347" y="748.5">2</text>
<circle cx="347" cy="773" r="12"/><text x="347" y="773.5">15</text>
<circle cx="495" cy="555" r="12"/><text x="495" y="555.5">1</text>
<circle cx="482" cy="577" r="12"/><text x="482" y="577.5">9</text>
<circle cx="508" cy="577" r="12"/><text x="508" y="577.5">12</text>
<circle cx="1219.5" cy="555" r="12"/><text x="1219.5" y="555.5">3</text>
<circle cx="1259.4" cy="575.5" r="12"/><text x="1259.4" y="576">2</text>
<circle cx="1319.3" cy="512" r="12"/><text x="1319.3" y="512.5">11</text>
<circle cx="1357.3" cy="512" r="12"/><text x="1357.3" y="512.5">14</text>
<circle cx="1157.6" cy="757.6" r="12"/><text x="1157.6" y="758">12</text>
<circle cx="1157" cy="795" r="12"/><text x="1157" y="795.5">13</text>
<circle cx="1217.7" cy="781.8" r="12"/><text x="1217.7" y="782.3">10</text>
<circle cx="1174" cy="860" r="12"/><text x="1174" y="860.5">5</text>
<circle cx="1204" cy="860" r="12"/><text x="1204" y="860.5">6</text>
<circle cx="1458.6" cy="704" r="12"/><text x="1458.6" y="704.5">7</text>
<circle cx="1458.6" cy="802.4" r="12"/><text x="1458.6" y="803">8</text>
</g>

<path d="M1467,952 L1482,990 L1467,982 L1452,990 Z" fill="#1f3550"/>
<text x="1467" y="1006" font-family="Liberation Sans,sans-serif" font-weight="bold" font-size="30" fill="#1f3550" text-anchor="middle" dominant-baseline="central">N</text>

<rect x="36" y="81" width="231" height="424" fill="#fff"/>
<text x="54" y="126" font-family="Liberation Sans,sans-serif" font-weight="bold" font-size="30" fill="#0e3a5c" textLength="133" lengthAdjust="spacingAndGlyphs">Amenities</text>
<g class="lm">
<circle cx="64" cy="147" r="8.5"/><text x="64" y="147.5">1</text>
<circle cx="64" cy="166" r="8.5"/><text x="64" y="166.5">2</text>
<circle cx="64" cy="185" r="8.5"/><text x="64" y="185.5">3</text>
<circle cx="64" cy="203.5" r="8.5"/><text x="64" y="204">4</text>
<circle cx="64" cy="222" r="8.5"/><text x="64" y="222.5">5</text>
<circle cx="64" cy="241" r="8.5"/><text x="64" y="241.5">6</text>
<circle cx="64" cy="259.5" r="8.5"/><text x="64" y="260">7</text>
<circle cx="64" cy="278" r="8.5"/><text x="64" y="278.5">8</text>
<circle cx="64" cy="297" r="8.5"/><text x="64" y="297.5">9</text>
<circle cx="64" cy="315.5" r="8.5"/><text x="64" y="316">10</text>
<circle cx="64" cy="334" r="8.5"/><text x="64" y="334.5">11</text>
<circle cx="64" cy="353" r="8.5"/><text x="64" y="353.5">12</text>
<circle cx="64" cy="371.5" r="8.5"/><text x="64" y="372">13</text>
<circle cx="64" cy="465.5" r="8.5"/><text x="64" y="466">14</text>
<circle cx="64" cy="484" r="8.5"/><text x="64" y="484.5">15</text>
</g>
<g class="li">
<text x="86" y="152">Bocce Ball</text>
<text x="86" y="171">Dumpster</text>
<text x="86" y="190">Extra Parking Lot: Lower</text>
<text x="86" y="208.5">Extra Parking Lot: Upper</text>
<text x="86" y="227">Fitness Center</text>
<text x="86" y="246">Laundromat</text>
<text x="86" y="264.5">Mini Golf</text>
<text x="86" y="283">Mini Golf Parking</text>
<text x="86" y="302">Pavilion</text>
<text x="86" y="320.5">Pool</text>
<text x="86" y="339">Recreation Field</text>
<text x="86" y="358">Restrooms</text>
<text x="86" y="376.5">Service Building</text>
<text x="86" y="470.5">Shuffleboard</text>
<text x="86" y="489">Water</text>
</g>
<g class="ls">
<text x="86" y="395">- Game Room</text>
<text x="86" y="414">- Restrooms</text>
<text x="86" y="432.5">- Store</text>
<text x="86" y="451">- Welcome Center</text>
</g>

<rect x="299" y="81" width="198" height="138" fill="#fff"/>
<text x="318" y="121" font-family="Liberation Sans,sans-serif" font-weight="bold" font-size="30" fill="#0e3a5c" textLength="139" lengthAdjust="spacingAndGlyphs">Site Types</text>
<rect x="319" y="138" width="30" height="24" fill="#fbbc22"/>
<text x="358" y="155" font-family="Liberation Sans,sans-serif" font-size="13" fill="#263352"><tspan font-weight="bold">Sites</tspan> (RV, Premium</text>
<text x="358" y="172" font-family="Liberation Sans,sans-serif" font-size="13" fill="#263352">Tent/Primitive Tent)</text>
<rect x="319" y="183" width="30" height="24" fill="#3c5f7a"/>
<text x="358" y="199.5" font-family="Liberation Sans,sans-serif" font-weight="bold" font-size="13.5" fill="#263352">Vacation Rentals</text>
</svg>
</body></html>
